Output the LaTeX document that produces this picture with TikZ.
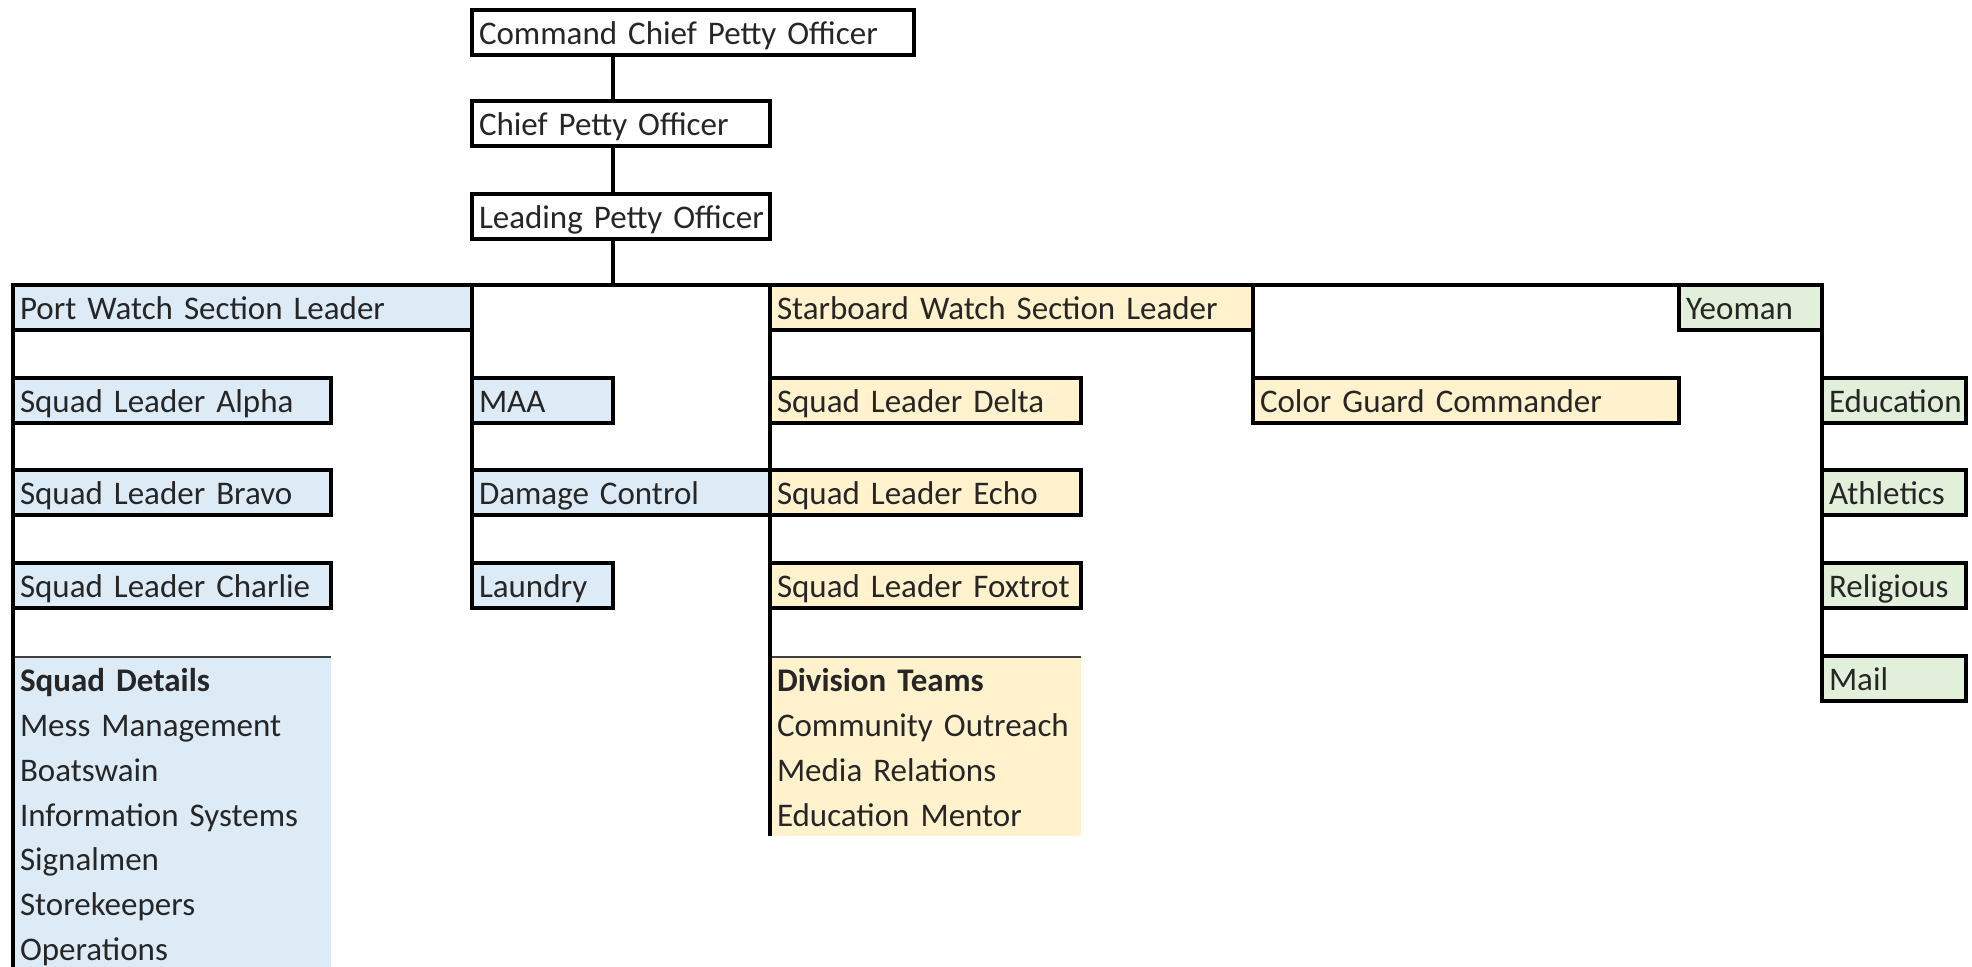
\documentclass[tikz,border=0pt]{standalone}
\usepackage{fontspec}
\setmainfont{Carlito}
\usepackage{xcolor}
\usepackage{tikz}
\usetikzlibrary{backgrounds}
\definecolor{portblue}{HTML}{DDEBF7}
\definecolor{starbuff}{HTML}{FFF2CC}
\definecolor{yeogreen}{HTML}{E2EFDA}
\hyphenpenalty=10000
\exhyphenpenalty=10000

\begin{document}
\begin{tikzpicture}[x=0.5pt, y=-0.5pt,
  font=\fontsize{16.5pt}{22.35pt}\selectfont,
  every node/.style={text=black!85},
  post/.style={draw, line width=1.8pt, outer sep=0pt, anchor=north west, inner xsep=3.5pt, inner ysep=0pt, minimum height=22.5pt, text height=12.5pt, text depth=0pt, align=left, text width=#1},
  duties/.style={outer sep=0pt, anchor=north west, inner xsep=3.5pt, inner ysep=0pt, align=left, text width=#1},
  link/.style={line width=1.8pt}]
\path[use as bounding box] (0,0) rectangle (1972,967);
\coordinate (floor) at (0,985);
\coordinate (teamsfloor) at (0,836);

\node[post=214pt] (ccpo) at (472,10) {Command Chief Petty Officer};
\node[post=142pt] (cpo) at (472,101) {Chief Petty Officer};
\node[post=142pt] (lpo) at (472,194) {\mbox{Leading Petty Officer}};

\node[post=222.5pt, fill=portblue] (port) at (13,285) {Port Watch Section Leader};
\node[post=152pt, fill=portblue] (alpha) at (13,378) {Squad Leader Alpha};
\node[post=152pt, fill=portblue] (bravo) at (13,470) {Squad Leader Bravo};
\node[post=152pt, fill=portblue] (charlie) at (13,563) {Squad Leader Charlie};
\node[post=63.5pt, fill=portblue] (maa) at (472,378) {MAA};
\node[post=142pt, fill=portblue] (damage) at (472,470) {Damage Control};
\node[post=63.5pt, fill=portblue] (laundry) at (472,563) {Laundry};
\node[duties=152pt] (details) at (13,657) {\rule{0pt}{17.5pt}\textbf{Squad Details}\\Mess Management\\Boatswain\\Information Systems\\Signalmen\\Storekeepers\\Operations};

\node[post=234.5pt, fill=starbuff] (starboard) at (770,285) {Starboard Watch Section Leader};
\node[post=148.5pt, fill=starbuff] (delta) at (770,378) {Squad Leader Delta};
\node[post=148.5pt, fill=starbuff] (echo) at (770,470) {Squad Leader Echo};
\node[post=148.5pt, fill=starbuff] (foxtrot) at (770,563) {Squad Leader Foxtrot};
\node[duties=148.5pt] (teams) at (770,657) {\rule{0pt}{17.5pt}\textbf{Division Teams}\\Community Outreach\\Media Relations\\Education Mentor};
\node[post=206pt, fill=starbuff] (colorguard) at (1253,378) {Color Guard Commander};

\node[post=64.5pt, fill=yeogreen] (yeoman) at (1679,285) {Yeoman};
\node[post=65pt, fill=yeogreen] (education) at (1822,378) {Education};
\node[post=65pt, fill=yeogreen] (athletics) at (1822,470) {Athletics};
\node[post=65pt, fill=yeogreen] (religious) at (1822,563) {Religious};
\node[post=65pt, fill=yeogreen] (mail) at (1822,656) {Mail};

\begin{scope}[on background layer]
\fill[white] (0,0) rectangle (1972,967);
\fill[portblue] (details.north west) rectangle (details.east |- floor);
\fill[starbuff] (teams.north west) rectangle (teams.east |- teamsfloor);
\end{scope}
\draw[line width=1pt, black!75] (details.north west) -- (details.north east);
\draw[line width=1pt, black!75] (teams.north west) -- (teams.north east);

\draw[link] (ccpo.south -| maa.east) -- (cpo.north -| maa.east);
\draw[link] (cpo.south -| maa.east) -- (lpo.north -| maa.east);
\draw[link] (lpo.south -| maa.east) -- (port.north -| maa.east);
\draw[link] (port.north west) -- (yeoman.north east);
\draw[link] (port.south west) -- (port.south west |- floor);
\draw[link] (port.north east) -- (laundry.south west);
\draw[link] (starboard.south west) -- (starboard.south west |- teamsfloor);
\draw[link] (starboard.south east) -- (colorguard.north west);
\draw[link] (yeoman.south east) -- (mail.south west);
\end{tikzpicture}
\end{document}
